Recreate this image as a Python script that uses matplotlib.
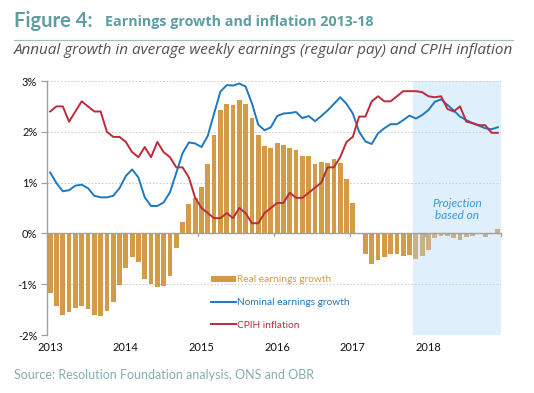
import matplotlib
matplotlib.use("Agg")
import matplotlib.pyplot as plt
from matplotlib.patches import Patch
from matplotlib.lines import Line2D
import numpy as np

plt.rcParams['font.family'] = ['Lato', 'DejaVu Sans']

years = ['2013', '2014', '2015', '2016', '2017', '2018']
real = [-1.18, -1.43, -1.60, -1.54, -1.46, -1.43, -1.48, -1.61, -1.63, -1.53, -1.35, -1.02,
        -0.68, -0.46, -0.56, -0.89, -1.00, -1.05, -1.03, -0.83, -0.28, 0.23, 0.58, 0.69,
        0.91, 1.37, 1.94, 2.42, 2.55, 2.53, 2.62, 2.55, 2.28, 1.93, 1.72, 1.69,
        1.78, 1.74, 1.68, 1.64, 1.52, 1.52, 1.37, 1.40, 1.39, 1.46, 1.39, 1.07,
        0.60, -0.02, -0.40, -0.60, -0.52, -0.46, -0.40, -0.40, -0.45, -0.42, -0.50, -0.45,
        -0.33, -0.10, -0.06, -0.05, -0.09, -0.13, -0.08, -0.05, -0.01, -0.07, -0.01, 0.08]
nominal = [1.20, 0.99, 0.83, 0.85, 0.94, 0.96, 0.89, 0.74, 0.71, 0.71, 0.74, 0.89,
           1.13, 1.26, 1.10, 0.71, 0.54, 0.54, 0.61, 0.81, 1.19, 1.58, 1.79, 1.77,
           1.70, 1.92, 2.36, 2.79, 2.92, 2.91, 2.95, 2.89, 2.56, 2.14, 2.03, 2.09,
           2.31, 2.36, 2.37, 2.39, 2.27, 2.31, 2.21, 2.31, 2.42, 2.55, 2.68, 2.55,
           2.36, 2.00, 1.81, 1.76, 1.97, 2.07, 2.15, 2.15, 2.23, 2.32, 2.26, 2.33,
           2.43, 2.59, 2.64, 2.53, 2.42, 2.30, 2.23, 2.17, 2.12, 2.07, 2.05, 2.09]
cpih = [2.4, 2.5, 2.5, 2.2, 2.4, 2.6, 2.5, 2.4, 2.4, 2.0, 1.9, 1.9,
        1.8, 1.6, 1.5, 1.7, 1.5, 1.8, 1.6, 1.5, 1.3, 1.3, 1.1, 0.7,
        0.5, 0.4, 0.3, 0.3, 0.4, 0.3, 0.5, 0.4, 0.2, 0.2, 0.4, 0.5,
        0.6, 0.6, 0.8, 0.7, 0.7, 0.8, 0.9, 1.0, 1.3, 1.3, 1.5, 1.8,
        1.9, 2.3, 2.3, 2.6, 2.7, 2.6, 2.6, 2.7, 2.8, 2.8, 2.8, 2.78,
        2.7, 2.68, 2.7, 2.45, 2.4, 2.5, 2.2, 2.17, 2.13, 2.13, 1.98, 1.98]
projection_start = 58  # first projected month (Nov 2017)
yticks = [-2, -1, 0, 1, 2, 3]
ytick_labels = ['-2%', '-1%', '0%', '1%', '2%', '3%']

BAR = '#D39B47'
BAR_PROJ = '#C8B089'
BLUE = '#1F78BE'
RED = '#BE2A3A'
SHADE = '#DFEFFB'
TEAL = '#5E9EA0'

fig = plt.figure(figsize=(5.34, 3.93), dpi=100)
ax = fig.add_axes([47/534, 1-335/393, 454/534, 254/393])

n = len(real)
x = np.arange(n)
ax.axvspan(projection_start - 0.5, n - 0.5, color=SHADE, zorder=0, lw=0)
for yv in yticks:
    if yv != 0:
        ax.axhline(yv, color='#C8C8C8', lw=0.7, ls=(0, (1.5, 2)), zorder=1)

colors = [BAR if i < projection_start else BAR_PROJ for i in range(n)]
ax.bar(x, real, width=0.76, color=colors, zorder=2, lw=0)
ax.axhline(0, color='#A0A0A0', lw=1.0, zorder=3)
ax.plot(x, nominal, color=BLUE, lw=1.4, zorder=4)
ax.plot(x, cpih, color=RED, lw=1.4, zorder=4)

# year ticks on zero line
for k in range(len(years) + 1):
    xb = 12 * k - 0.5
    ax.plot([xb, xb], [0, -0.06], color='#A0A0A0', lw=0.9, zorder=3, clip_on=False)

ax.set_xlim(-0.5, n - 0.5)
ax.set_ylim(-2, 3)
ax.set_yticks(yticks)
ax.set_yticklabels(ytick_labels)
ax.set_xticks([12 * k for k in range(len(years))])
ax.set_xticklabels(years)
ax.tick_params(axis='x', length=0, pad=5, labelsize=8, colors='#111111')
ax.tick_params(axis='y', length=4, width=0.9, color='#A0A0A0', pad=3, labelsize=8, labelcolor='#111111')
for s in ['top', 'right', 'bottom']:
    ax.spines[s].set_visible(False)
ax.spines['left'].set_color('#A0A0A0')
ax.spines['left'].set_linewidth(1.0)

ax.text(n - 0.5 - (n - projection_start) / 2, 0.24, 'Projection\nbased on', color='#3A96DA',
        style='italic', fontsize=8.5, ha='center', va='bottom', linespacing=1.15)

handles = [Patch(facecolor=BAR, edgecolor='none'),
           Line2D([], [], color=BLUE, lw=1.4),
           Line2D([], [], color=RED, lw=1.4)]
labels = ['Real earnings growth', 'Nominal earnings growth', 'CPIH inflation']
leg = ax.legend(handles, labels, loc='upper left', bbox_to_anchor=(0.362, 0.235),
                frameon=False, fontsize=7.3, handlelength=2.4, handleheight=0.55,
                handletextpad=0.15, labelspacing=1.35, borderpad=0, borderaxespad=0)
for t, c in zip(leg.get_texts(), [BAR, BLUE, RED]):
    t.set_color(c)

fig.text(14/534, 1-21/393, 'Figure 4:', color=TEAL, fontsize=14.5, fontweight='bold', va='center')
fig.text(105/534, 1-22/393, 'Earnings growth and inflation 2013-18', color=TEAL, fontsize=10.3,
         fontweight='bold', va='center', family=['Open Sans', 'DejaVu Sans'])
fig.add_artist(Line2D([14/534, 513/534], [1-40/393, 1-40/393], color='#9CBFC1', lw=0.8))
fig.text(14/534, 1-51/393, 'Annual growth in average weekly earnings (regular pay) and CPIH inflation',
         color='#505050', style='italic', fontsize=11, va='center', family=['Open Sans', 'DejaVu Sans'])
fig.text(14/534, 1-375/393, 'Source: Resolution Foundation analysis, ONS and OBR', color='#86ADB1',
         fontsize=9, va='center')

fig.savefig('out.png', dpi=100)
